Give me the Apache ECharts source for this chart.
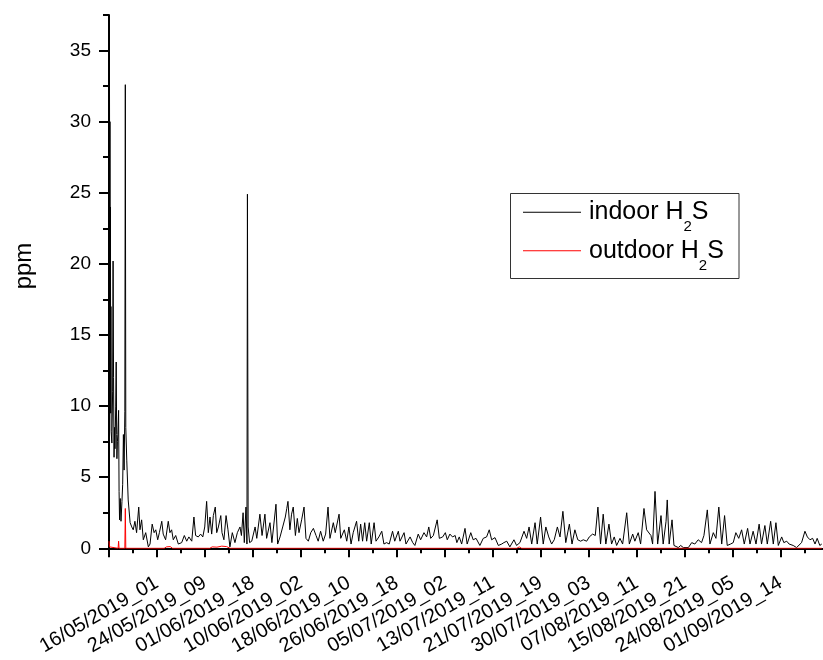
<!DOCTYPE html>
<html>
<head>
<meta charset="utf-8">
<script src="https://cdn.jsdelivr.net/npm/echarts@6/dist/echarts.min.js"></script>
<style>html,body{margin:0;padding:0;background:#fff}#c{width:823px;height:660px}</style>
</head>
<body>
<div id="c"></div>
<script>
// x positions are hour indices of the hourly record (one label every 200 h)
const tickLabels = ['16/05/2019_01','24/05/2019_09','01/06/2019_18','10/06/2019_02','18/06/2019_10','26/06/2019_18','05/07/2019_02','13/07/2019_11','21/07/2019_19','30/07/2019_03','07/08/2019_11','15/08/2019_21','24/08/2019_05','01/09/2019_14'];
const seriesNames = ['indoor H2S','outdoor H2S'];

const indoor = [
[0,34.4],[1,28],[2,33.5],[3,22],[4,30],[5,15],[6,24],[7,9.5],[8,17],[9,8.2],[12,7.4],[15,11],[17,20.2],[19,12],[21,6.4],[23,8.5],[25,7],[28,10],[30,13.1],[32,8],[33,6.3],[35,7.5],[37,8],[40,9.7],[42,4],[44,2.0],[47,3.5],[50,1.9],[54,3.3],[57,4.5],[60,8.0],[63,5.5],[66,9.6],[68,32.6],[70,8.5],[74,6.2],[80,3.4],[88,1.8],
[95,1.5],[101,1.3],[108,1.9],[115,1.1],[124,2.9],[129,1.3],[136,2.0],[143,0.6],[153,1.1],[164,0.1],[171,0.3],[180,1.7],[188,1.1],[195,1.3],[203,0.6],[210,1.1],[220,1.9],[226,1.0],[236,0.6],[247,1.9],[254,1.1],[261,1.3],[268,0.6],[278,0.9],[289,0.3],[303,0.4],[314,0.9],[324,0.5],[333,0.8],[345,0.5],[354,2.2],[361,0.9],[372,0.8],[382,1.0],[391,0.8],[399,1.5],[407,3.3],[414,1.1],[421,2.2],[428,1.0],[435,2.3],[443,2.9],[449,1.1],[456,1.5],[466,2.3],[471,1.1],[479,0.6],[488,2.3],[496,1.3],[504,0.1],[514,1.1],[525,0.4],[535,1.1],[546,1.5],[552,0.9],[559,2.5],[564,0.4],[571,2.9],[575,0.3],[577,24.9],[580,1.5],[586,0.4],
[595,0.5],[609,1.5],[616,0.7],[629,2.4],[638,0.9],[650,2.4],[657,0.7],[671,1.8],[679,0.4],[696,3.1],[703,0.3],[713,0.8],[724,1.5],[735,2.2],[741,2.8],[746,3.3],[754,1.3],[761,2.4],[768,2.9],[777,0.9],[785,2.1],[792,1.1],[803,2.0],[813,2.9],[821,0.7],[831,0.5],[841,1.1],[852,1.4],[863,0.9],[872,0.5],[882,1.2],[893,0.5],[903,1.0],[913,2.9],[921,0.7],[935,1.8],[943,1.1],[959,2.4],[966,0.7],[981,1.3],[991,0.5],[1000,1.5],[1009,0.3],[1018,1.1],[1032,1.9],[1041,0.5],[1049,1.7],[1057,0.5],[1066,1.8],[1074,0.5],[1085,1.8],[1093,0.3],[1105,1.8],[1113,0.5],[1125,0.8],[1137,1.2],[1146,0.3],[1157,0.4],[1168,0.3],[1182,1.2],[1191,0.5],[1206,1.2],[1213,0.5],[1230,1.1],[1238,0.3],[1255,0.8],[1266,0.4],[1275,0.2],[1289,1.0],[1299,0.6],[1313,1.1],[1324,0.8],[1333,1.5],[1341,0.7],[1352,0.9],[1368,2.0],[1377,0.7],[1391,0.8],[1402,1.1],[1410,0.6],[1421,1.0],[1432,0.8],[1443,0.9],[1450,0.4],[1460,0.8],[1470,0.3],[1484,1.4],[1493,0.3],[1508,1.1],[1518,0.6],[1530,0.7],[1546,0.2],[1560,0.7],[1574,0.8],[1585,1.3],[1595,0.6],[1609,0.75],[1623,0.2],[1637,0.3],[1646,0.4],[1658,0.5],[1671,0.1],[1688,0.6],[1699,0.2],[1713,0.4],[1730,1.2],[1741,0.7],[1751,1.5],[1762,0.3],[1776,1.8],[1785,0.3],[1799,2.2],[1810,0.3],[1821,1.5],[1833,0.8],[1845,0.3],[1856,0.6],[1869,1.5],[1880,0.8],[1892,2.6],[1904,0.4],[1919,1.7],[1930,0.3],[1942,1.3],[1954,0.6],[1966,0.5],[1977,0.6],[1991,0.5],[2002,0.8],[2016,1.0],[2027,0.9],[2038,2.9],[2049,0.3],[2060,2.4],[2071,0.3],[2084,1.7],[2095,0.3],[2106,0.8],[2116,0.2],[2130,0.7],[2141,0.3],[2158,2.5],[2169,0.3],[2183,1.0],[2192,0.5],[2206,1.1],[2216,0.3],[2230,2.8],[2241,1.3],[2249,1.2],[2259,0.9],[2266,0.3],[2276,4.0],[2287,0.3],[2301,2.3],[2310,0.3],[2322,1.9],[2327,3.4],[2335,0.3],[2347,2.0],[2355,0.2],[2373,0.05],[2383,0.2],[2394,0.05],[2415,0.05],[2429,0.4],[2442,0.3],[2456,0.6],[2470,0.4],[2480,0.9],[2494,2.7],[2505,0.3],[2519,1.1],[2530,0.7],[2542,2.9],[2554,0.3],[2566,2.3],[2577,0.2],[2591,0.3],[2602,0.4],[2613,1.1],[2625,0.7],[2637,1.3],[2648,0.3],[2662,1.4],[2672,0.3],[2685,1.2],[2697,0.3],[2710,1.7],[2720,0.3],[2734,1.6],[2744,0.3],[2758,1.9],[2769,0.3],[2780,1.8],[2790,0.2],[2804,0.8],[2813,0.4],[2825,0.5],[2835,0.3],[2852,0.2],[2866,0.05],[2887,0.4],[2901,1.2],[2911,0.8],[2922,0.6],[2933,0.7],[2943,0.3],[2952,0.7],[2963,0.2],[2971,0.3]
];

const outdoor = [
[0,0.5],[2,0.1],[38,0],[40,0.5],[42,0],[66,0],[68,2.8],[70,0],[230,0],[240,0.1],[255,0.12],[265,0],[420,0],[430,0.1],[450,0.08],[470,0.15],[490,0.12],[505,0],[1700,0],[1710,0.1],[1720,0],[2971,0]
];

const FONT = "'Liberation Sans', Arial, sans-serif";
const chart = echarts.init(document.getElementById('c'), null, {renderer: 'canvas'});
const TICK = {color: '#000', width: 2};
chart.setOption({
  animation: false,
  backgroundColor: '#fff',
  textStyle: {fontFamily: FONT},
  grid: [
    {left: 109, top: 15, width: 719.7, height: 533.3, containLabel: false, outerBoundsMode: 'none'},
    {left: 109, top: -20.55, width: 719.7, height: 568.85, containLabel: false, outerBoundsMode: 'none'}
  ],
  legend: {
    orient: 'vertical', left: 523, top: 189.8,
    icon: 'rect', itemWidth: 58, itemHeight: 1, itemGap: -6.6,
    padding: 0,
    data: seriesNames,
    formatter: n => n.replace('H2S', 'H{sub|2}S'),
    textStyle: {
      fontSize: 25, color: '#000', fontFamily: FONT, lineHeight: 45, padding: [0, 0, 0, 3],
      rich: {sub: {fontSize: 15, lineHeight: 6, verticalAlign: 'bottom', color: '#000', fontFamily: FONT}}
    }
  },
  graphic: [{
    type: 'rect', shape: {x: 510.5, y: 193.5, width: 228.5, height: 85},
    style: {fill: 'none', stroke: '#333', lineWidth: 1}, silent: true
  }, {
    type: 'text', x: 24, y: 266, rotation: Math.PI / 2,
    style: {text: 'ppm', fontSize: 24, fill: '#000', fontFamily: FONT, align: 'center', verticalAlign: 'middle'}
  }],
  xAxis: [{
    gridIndex: 0, type: 'value', min: 0, max: 3000, interval: 100, position: 'bottom',
    axisLine: {show: true, lineStyle: {color: '#000', width: 2}},
    axisTick: {show: true, length: 5, lineStyle: TICK},
    axisLabel: {show: false},
    splitLine: {show: false}
  }, {
    gridIndex: 1, type: 'value', min: 0, max: 3000, interval: 200, position: 'bottom',
    axisLine: {show: false},
    axisTick: {show: true, length: 9, lineStyle: TICK},
    axisLabel: {show: true, rotate: 30, margin: 33, fontSize: 20, color: '#000', fontFamily: FONT,
      formatter: v => tickLabels[Math.round(v / 200) - 1] || ''},
    splitLine: {show: false}
  }],
  yAxis: [{
    gridIndex: 0, type: 'value', min: 0, max: 37.5, interval: 2.5, position: 'left',
    axisLine: {show: true, lineStyle: {color: '#000', width: 2}},
    axisTick: {show: true, length: 6, lineStyle: TICK},
    axisLabel: {show: false},
    splitLine: {show: false}
  }, {
    gridIndex: 1, type: 'value', min: 0, max: 40, interval: 5, position: 'left',
    axisLine: {show: false},
    axisTick: {show: true, length: 10, lineStyle: TICK},
    axisLabel: {show: true, margin: 18, fontSize: 19, color: '#000', fontFamily: FONT,
      formatter: v => (v > 35 ? '' : String(v))},
    splitLine: {show: false}
  }],
  series: [{
    name: seriesNames[0], type: 'line', data: indoor, symbol: 'none', showSymbol: false,
    xAxisIndex: 0, yAxisIndex: 0,
    lineStyle: {color: '#000', width: 1}, itemStyle: {color: '#000'}
  }, {
    name: seriesNames[1], type: 'line', data: outdoor, symbol: 'none', showSymbol: false,
    xAxisIndex: 0, yAxisIndex: 0,
    lineStyle: {color: '#f00', width: 1}, itemStyle: {color: '#f00'}
  }]
});
</script>
</body>
</html>
